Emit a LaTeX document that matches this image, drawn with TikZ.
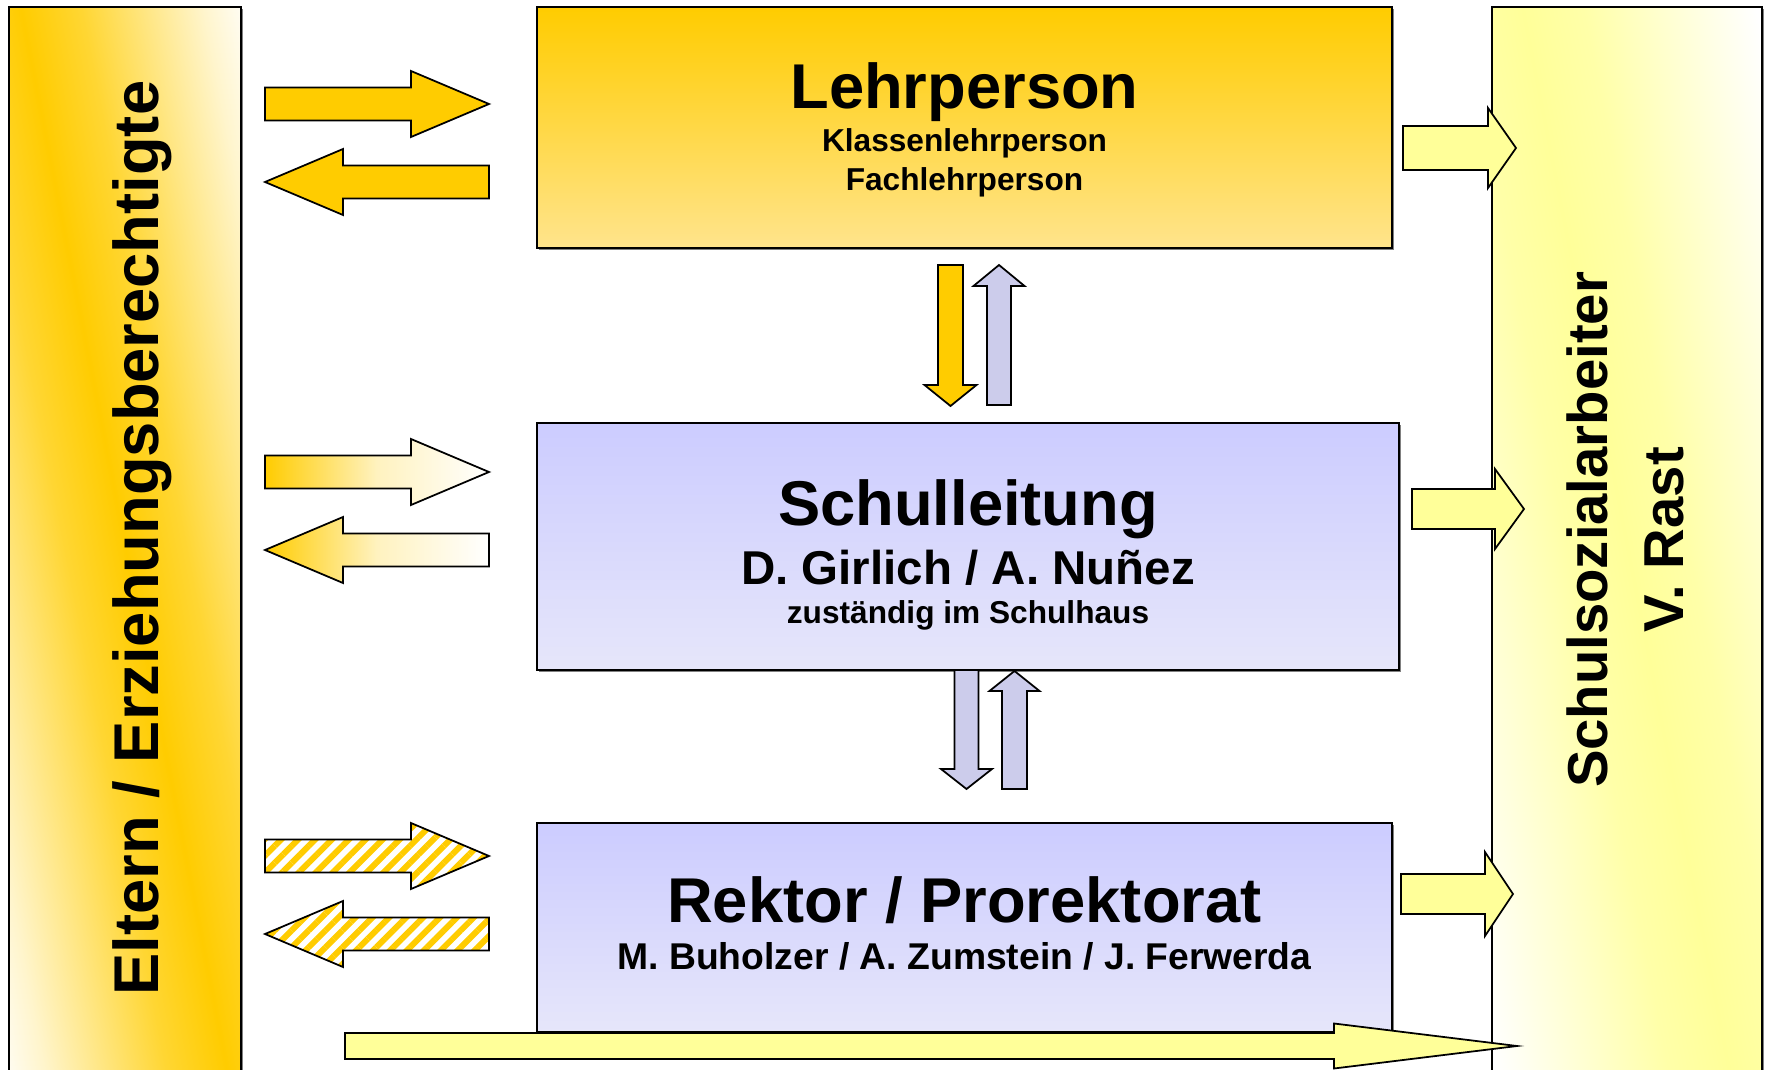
\documentclass[tikz,border=0pt]{standalone}
\usepackage{fontspec}
\setmainfont{Liberation Sans}
\usetikzlibrary{shadows,patterns.meta}

\definecolor{gold}{HTML}{FFCC00}
\definecolor{goldpale}{HTML}{FFE48C}
\definecolor{lavtop}{HTML}{CCCCFF}
\definecolor{lavbottom}{HTML}{E6E6FA}
\definecolor{lavarrow}{HTML}{CCCCEB}
\definecolor{paleyellow}{HTML}{FFFF99}

\pgfdeclarehorizontalshading{elternglow}{100bp}{color(0bp)=(white); color(40.4bp)=(white);
  color(42.5bp)=(gold!20!white); color(45bp)=(gold!50!white); color(47.5bp)=(gold!80!white);
  color(50bp)=(gold); color(52.5bp)=(gold!80!white); color(55bp)=(gold!50!white);
  color(57.5bp)=(gold!20!white); color(59.6bp)=(white); color(100bp)=(white)}
\pgfdeclarehorizontalshading{ssaglow}{100bp}{color(0bp)=(white); color(40.4bp)=(white);
  color(42.5bp)=(paleyellow!25!white); color(45bp)=(paleyellow!55!white); color(47.5bp)=(paleyellow!85!white);
  color(50bp)=(paleyellow); color(52.5bp)=(paleyellow!85!white); color(55bp)=(paleyellow!55!white);
  color(57.5bp)=(paleyellow!25!white); color(59.6bp)=(white); color(100bp)=(white)}

\newcommand{\blockarrow}[7][]{%
  \draw[arrowline,#1,shift={#2},rotate=#3] (0,-#5) -- (#4-#7,-#5) -- (#4-#7,-#6) -- (#4,0)
    -- (#4-#7,#6) -- (#4-#7,#5) -- (0,#5) -- cycle;}

\begin{document}
\begin{tikzpicture}[x=0.01cm,y=-0.01cm,
    box/.style={draw,line width=0.5pt,inner sep=0pt,outer sep=0pt,
      drop shadow={shadow xshift=0.6pt,shadow yshift=-0.6pt,fill=black!50,opacity=1}},
    lehrbox/.style={box,top color=gold,bottom color=goldpale},
    leitbox/.style={box,top color=lavtop,bottom color=lavbottom},
    sidebox/.style={box,path picture={\shade[shading=#1,shading angle=11]
      ([shift={(-600,-600)}]path picture bounding box.center) rectangle
      ([shift={(600,600)}]path picture bounding box.center);}},
    boxtitle/.style={anchor=base,font=\bfseries\fontsize{18}{22}\selectfont},
    boxnames/.style={anchor=base,font=\bfseries\fontsize{13.5}{16}\selectfont},
    rektornames/.style={anchor=base,font=\bfseries\fontsize{10.6}{13}\selectfont},
    boxsub/.style={anchor=base,font=\bfseries\fontsize{9}{11}\selectfont},
    sidetitle/.style={anchor=base,rotate=90,font=\bfseries\fontsize{16}{19}\selectfont},
    arrowline/.style={draw=black,line width=0.5pt},
    hatch/.style={preaction={fill=white},pattern={Lines[angle=45,distance=3.4pt,line width=1.7pt]},pattern color=gold}]
  \useasboundingbox (0,0) rectangle (1769,1070);

  \node[sidebox=elternglow,minimum width=2.32cm,minimum height=10.78cm] (eltern) at (125,546) {};
  \node[sidebox=ssaglow,minimum width=2.70cm,minimum height=10.78cm] (ssa) at (1627,546) {};
  \node[lehrbox,minimum width=8.55cm,minimum height=2.41cm] (lehr) at (964.5,127.5) {};
  \node[leitbox,minimum width=8.62cm,minimum height=2.47cm] (schul) at (968,546.5) {};
  \node[leitbox,minimum width=8.55cm,minimum height=2.09cm] (rektor) at (964.5,927.5) {};

  \node[sidetitle,font=\bfseries\fontsize{18}{22}\selectfont] (elternT) at (158,538) {Eltern / Erziehungsberechtigte};
  \node[sidetitle] (ssaT) at (1607,530) {Schulsozialarbeiter};
  \node[sidetitle] (ssaN) at (1683,540) {V. Rast};
  \node[boxtitle] (lehrT) at (964.5,109) {Lehrperson};
  \node[boxsub] (lehrK) at (964.5,152) {Klassenlehrperson};
  \node[boxsub] (lehrF) at (964.5,191) {Fachlehrperson};
  \node[boxtitle] (schulT) at (968,525) {Schulleitung};
  \node[boxnames] (schulN) at (968,584) {D. Girlich / A. Nuñez};
  \node[boxsub] (schulZ) at (968,623) {zuständig im Schulhaus};
  \node[boxtitle] (rektorT) at (964.5,922) {Rektor / Prorektorat};
  \node[rektornames] (rektorN) at (964.5,969) {M. Buholzer / A. Zumstein / J. Ferwerda};

  \blockarrow[fill=gold]{(265,104)}{0}{224}{16.5}{33}{78}
  \blockarrow[fill=gold]{(489,182)}{180}{224}{16.5}{33}{78}
  \blockarrow[left color=gold,right color=white,middle color=gold!25]{(265,472)}{0}{224}{16.5}{33}{78}
  \blockarrow[left color=gold,right color=white,middle color=gold!25]{(489,550)}{180}{224}{16.5}{33}{78}
  \blockarrow[hatch]{(265,856)}{0}{224}{16.5}{33}{78}
  \blockarrow[hatch]{(489,934)}{180}{224}{16.5}{33}{78}

  \blockarrow[fill=gold]{(950.5,265)}{-90}{141}{12.5}{26}{21}
  \blockarrow[fill=lavarrow]{(999,405)}{90}{140}{12}{25.5}{21}
  \blockarrow[fill=lavarrow]{(966.5,670)}{-90}{119}{12}{25.5}{20}
  \blockarrow[fill=lavarrow]{(1014.5,789)}{90}{118}{12.5}{25}{20}

  \blockarrow[fill=paleyellow]{(1403,148)}{0}{113}{22}{40}{28}
  \blockarrow[fill=paleyellow]{(1412,509)}{0}{112}{20}{40}{29}
  \blockarrow[fill=paleyellow]{(1401,894)}{0}{112}{20}{42}{28}
  \blockarrow[fill=paleyellow]{(345,1046)}{0}{1172}{13}{22.5}{183}
\end{tikzpicture}
\end{document}
